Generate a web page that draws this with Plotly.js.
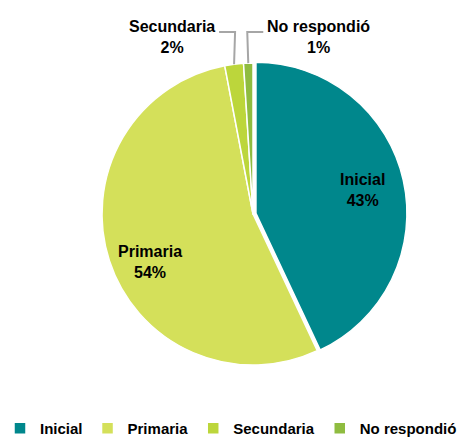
<!DOCTYPE html>
<html><head><meta charset="utf-8">
<script src="https://cdn.plot.ly/plotly-3.0.1.min.js"></script>
<style>html,body{margin:0;padding:0;background:#fff}#chart{width:470px;height:438px}</style>
</head><body><div id="chart"></div>
<script>
const labels = ["Inicial", "Primaria", "Secundaria", "No respondió"];
const values = [43, 54, 2, 1];
const colors = ["#00878C", "#D4E05A", "#BCD63B", "#8FBC40"];
const pulls = [0.02, 0, 0, 0];
const labelPlacement = ["inside", "inside", "left", "right"];

const W = 470, H = 438;
const FONT = '"Liberation Sans", Arial, sans-serif';
const FSIZE = 16;
const domX = [0.2106, 0.866], domY = [0.1598, 0.863];
// small text nudges (pixels) for the inside labels, styling only
const insideNudge = {"Primaria": 14};

// pie geometry in pixels (derived from domain and pull)
const cx = (domX[0] + domX[1]) / 2 * W;
const cy = (1 - (domY[0] + domY[1]) / 2) * H;
const R = Math.min((domX[1] - domX[0]) * W, (domY[1] - domY[0]) * H) / 2 / (1 + Math.max(...pulls));
const px = x => x / W;
const py = y => 1 - y / H;

const total = values.reduce((a, b) => a + b, 0);
const annotations = [];
const shapes = [];
let cum = 0;
values.forEach((v, i) => {
  const mid = (cum + v / 2) / total * 2 * Math.PI;
  cum += v;
  const pct = Math.round(v / total * 100) + "%";
  const txt = "<b>" + labels[i] + "<br>" + pct + "</b>";
  if (labelPlacement[i] === "inside") {
    const rr = R * (0.72 + pulls[i]);
    annotations.push({
      x: px(cx + rr * Math.sin(mid)), y: py(cy - rr * Math.cos(mid) + (insideNudge[labels[i]] || 0)),
      xref: "paper", yref: "paper", text: txt, showarrow: false,
      xanchor: "center", yanchor: "middle", align: "center",
      font: {family: FONT, size: FSIZE, color: "#000"}
    });
  } else {
    const ax = cx + R * Math.sin(mid), ay = cy - R * Math.cos(mid);
    const elbowY = 32;
    const dir = labelPlacement[i] === "left" ? -1 : 1;
    const endX = ax + dir * 15;
    shapes.push({
      type: "path", xref: "paper", yref: "paper",
      path: "M" + px(ax) + "," + py(ay) + " L" + px(ax - dir * 1) + "," + py(elbowY) + " L" + px(endX) + "," + py(elbowY),
      line: {color: "#A6A6A6", width: 2}
    });
    annotations.push({
      x: px(endX + dir * 2), y: py(elbowY + 5),
      xref: "paper", yref: "paper", text: txt, showarrow: false,
      xanchor: dir < 0 ? "right" : "left", yanchor: "middle", align: "center",
      font: {family: FONT, size: FSIZE, color: "#000"}
    });
  }
});

const trace = {
  type: "pie",
  labels: labels,
  values: values,
  sort: false,
  direction: "clockwise",
  rotation: 0,
  pull: pulls,
  marker: {colors: colors, line: {color: "#ffffff", width: 1.5}},
  textinfo: "none",
  hoverinfo: "label+percent",
  domain: {x: domX, y: domY}
};

const layout = {
  width: W, height: H,
  margin: {l: 0, r: 0, t: 0, b: 0, autoexpand: false},
  paper_bgcolor: "#ffffff",
  showlegend: true,
  legend: {
    orientation: "h", x: 0, xanchor: "left", y: -0.016, yanchor: "bottom",
    font: {family: FONT, size: 15, color: "#000000", weight: "bold"},
    itemwidth: 30, traceorder: "normal", borderwidth: 0
  },
  annotations: annotations,
  shapes: shapes,
  font: {family: FONT}
};

Plotly.newPlot("chart", [trace], layout, {displayModeBar: false, staticPlot: true});
</script></body></html>
